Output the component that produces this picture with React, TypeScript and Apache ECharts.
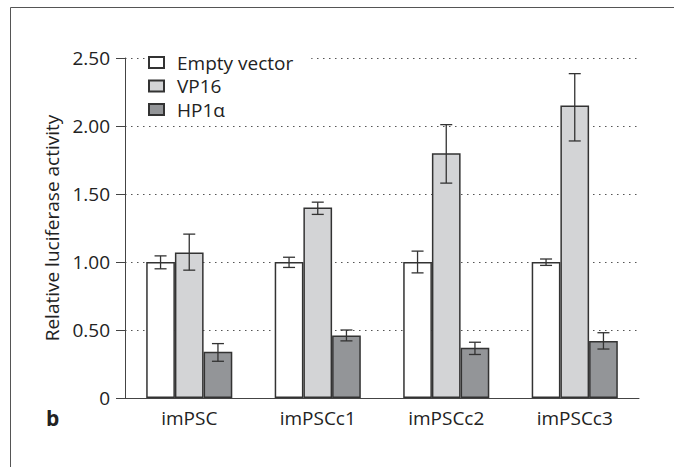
import React, { useEffect, useRef } from "react";
import * as echarts from "echarts";

const categories = ["imPSC", "imPSCc1", "imPSCc2", "imPSCc3"];
const seriesNames = ["Empty vector", "VP16", "HP1α"];
const emptyVector = [1.0, 1.0, 1.0, 1.0];
const vp16 = [1.07, 1.4, 1.8, 2.15];
const hp1a = [0.34, 0.46, 0.37, 0.42];
const emptyLow = [0.95, 0.96, 0.92, 0.975];
const emptyHigh = [1.045, 1.035, 1.08, 1.022];
const vpLow = [0.94, 1.35, 1.58, 1.89];
const vpHigh = [1.205, 1.44, 2.01, 2.385];
const hpLow = [0.27, 0.42, 0.32, 0.36];
const hpHigh = [0.4, 0.5, 0.41, 0.48];

const FONT = "Open Sans";
const FS = 19;
const GAP = 0.33;

export default function App() {
  const ref = useRef<HTMLDivElement>(null);
  useEffect(() => {
    document.body.style.margin = "0";
    const chart = echarts.init(ref.current!, null, { renderer: "svg" });
    const colors = ["#ffffff", "#d3d4d6", "#939598"];
    const values = [emptyVector, vp16, hp1a];
    const lows = [emptyLow, vpLow, hpLow];
    const highs = [emptyHigh, vpHigh, hpHigh];
    const errData: any[] = [];
    for (let s = 0; s < 3; s++) {
      for (let c = 0; c < categories.length; c++) {
        errData.push([c, lows[s][c], highs[s][c], s]);
      }
    }
    const bars = seriesNames.map((name, i) => ({
      name,
      type: "bar",
      data: values[i],
      barGap: "0%",
      barCategoryGap: GAP * 100 + "%",
      itemStyle: { color: colors[i], borderColor: "#333333", borderWidth: 1.5 },
      z: 3,
    }));
    chart.setOption({
      animation: false,
      graphic: [
        {
          type: "polyline",
          shape: { points: [[10.5, 470], [10.5, 7.5], [680, 7.5]] },
          style: { stroke: "#555", lineWidth: 1, fill: null },
        },
        {
          type: "text",
          left: 46,
          top: 407,
          style: { text: "b", font: `bold 21px "${FONT}"`, fill: "#222" },
        },
      ],
      grid: { left: 125, right: 35, top: 58, bottom: 69 },
      legend: {
        orient: "vertical",
        left: 146,
        top: 48,
        icon: "rect",
        itemWidth: 15,
        itemHeight: 11,
        itemGap: 4.5,
        padding: [5, 18, 2, 2],
        backgroundColor: "#ffffff",
        textStyle: {
          fontFamily: FONT,
          fontSize: FS,
          lineHeight: 16,
          color: "#222",
          padding: [0, 0, 0, 8],
        },
        data: seriesNames,
      },
      xAxis: {
        type: "category",
        data: categories,
        axisLine: { lineStyle: { color: "#444", width: 1 } },
        axisTick: { length: 10, lineStyle: { color: "#444" } },
        axisLabel: { fontFamily: FONT, fontSize: FS, color: "#222", margin: 10 },
      },
      yAxis: {
        type: "value",
        min: 0,
        max: 2.5,
        interval: 0.5,
        name: "Relative luciferase activity",
        nameLocation: "middle",
        nameGap: 62,
        nameTextStyle: { fontFamily: FONT, fontSize: FS, color: "#222" },
        axisLine: { show: true, lineStyle: { color: "#444", width: 1 } },
        axisTick: { show: true, length: 9, lineStyle: { color: "#444" } },
        axisLabel: {
          fontFamily: FONT,
          fontSize: FS,
          color: "#222",
          margin: 15,
          formatter: (v: number) => (v === 0 ? "0" : v.toFixed(2)),
        },
        splitLine: {
          show: true,
          lineStyle: { color: "#555", type: [1.5, 4.5], width: 1.2 },
        },
      },
      series: [
        ...bars,
        {
          type: "custom",
          z: 5,
          data: errData,
          encode: { x: 0, y: [1, 2] },
          renderItem: (params: any, api: any) => {
            const c = api.value(0);
            const s = api.value(3);
            const band = api.size([1, 0])[0];
            const bw = (band * (1 - GAP)) / 3;
            const center = api.coord([c, 0])[0] + (s - 1) * bw;
            const yl = api.coord([c, api.value(1)])[1];
            const yh = api.coord([c, api.value(2)])[1];
            const cap = 6;
            const style = { stroke: "#333", lineWidth: 1.3 };
            return {
              type: "group",
              children: [
                { type: "line", shape: { x1: center, y1: yl, x2: center, y2: yh }, style },
                { type: "line", shape: { x1: center - cap, y1: yh, x2: center + cap, y2: yh }, style },
                { type: "line", shape: { x1: center - cap, y1: yl, x2: center + cap, y2: yl }, style },
              ],
            };
          },
        },
      ],
    });
    return () => chart.dispose();
  }, []);
  return <div ref={ref} style={{ width: 674, height: 467 }} />;
}
